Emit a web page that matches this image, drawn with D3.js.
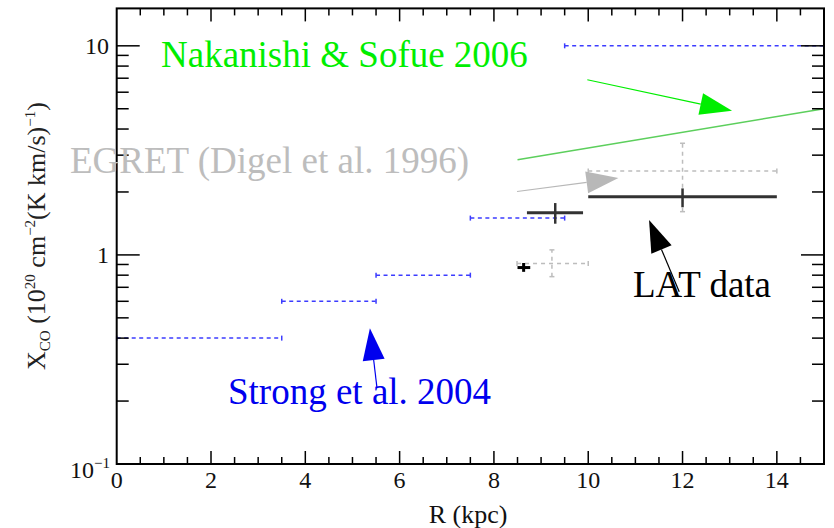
<!DOCTYPE html>
<html>
<head>
<meta charset="utf-8">
<script src="https://cdn.jsdelivr.net/npm/d3@7"></script>
<style>
  body { margin: 0; background: #fff; }
  svg { display: block; }
  svg text { font-family: "Liberation Serif", "Times New Roman", serif; }
</style>
</head>
<body>
<svg width="834" height="528"></svg>
<script>
(function() {
	"use strict"

	// Strong et al. 2004 radial bins (kpc) and X_CO values
	var strongLo = [0, 3.5, 5.5, 7.5, 9.5],
		strongHi = [3.5, 5.5, 7.5, 9.5, 15],
		strongVal = [0.4, 0.6, 0.8, 1.5, 10];

	// EGRET (Digel et al. 1996) points with errors
	var egretR = [9.23, 12], egretRlo = [8.49, 10], egretRhi = [10.0, 14],
		egretX = [0.91, 2.52], egretXlo = [0.787, 1.61], egretXhi = [1.057, 3.42];

	// LAT data points with errors
	var latR = [8.63, 9.3, 12], latRlo = [8.5, 8.7, 10], latRhi = [8.77, 9.89, 14],
		latX = [0.87, 1.59, 1.9], latXlo = [0.83, 1.41, 1.69], latXhi = [0.915, 1.77, 2.08];

	// Nakanishi & Sofue 2006 curve
	var nsR = [8.5, 15], nsX = [2.85, 5.0];

	var xTicks = [0, 2, 4, 6, 8, 10, 12, 14];

	var svg = d3.select("svg"),
		left = 116.7, right = 824, top = 8.4, bottom = 464,
		x = d3.scaleLinear().domain([0, 15]).range([left, right]),
		y = d3.scaleLog().domain([0.1, 15.1]).range([bottom, top]);

	// Strong et al. dashed bins
	var strong = svg.append("g").attr("stroke", "#3c3cff").attr("stroke-width", 1.5).attr("fill", "none");
	strongVal.forEach(function(v, i) {
		strong.append("line")
			.attr("x1", x(strongLo[i])).attr("x2", x(strongHi[i]))
			.attr("y1", y(v)).attr("y2", y(v))
			.attr("stroke-dasharray", "4,3.5");
		[strongLo[i], strongHi[i]].forEach(function(r) {
			strong.append("line")
				.attr("x1", x(r)).attr("x2", x(r))
				.attr("y1", y(v) - 2.5).attr("y2", y(v) + 2.5);
		});
	});

	// EGRET gray dashed crosses
	var egret = svg.append("g").attr("stroke", "#bdbdbd").attr("stroke-width", 1.5).attr("fill", "none");
	egretX.forEach(function(v, i) {
		egret.append("line")
			.attr("x1", x(egretRlo[i])).attr("x2", x(egretRhi[i]))
			.attr("y1", y(v)).attr("y2", y(v))
			.attr("stroke-dasharray", "4,4");
		egret.append("line")
			.attr("x1", x(egretR[i])).attr("x2", x(egretR[i]))
			.attr("y1", y(egretXlo[i])).attr("y2", y(egretXhi[i]))
			.attr("stroke-dasharray", "4,4");
		[egretRlo[i], egretRhi[i]].forEach(function(r) {
			egret.append("line").attr("x1", x(r)).attr("x2", x(r))
				.attr("y1", y(v) - 2.5).attr("y2", y(v) + 2.5);
		});
		[egretXlo[i], egretXhi[i]].forEach(function(e) {
			egret.append("line").attr("y1", y(e)).attr("y2", y(e))
				.attr("x1", x(egretR[i]) - 2.5).attr("x2", x(egretR[i]) + 2.5);
		});
	});

	// Nakanishi & Sofue line
	svg.append("path")
		.datum(nsR.map(function(r, i) { return [r, nsX[i]]; }))
		.attr("fill", "none")
		.attr("stroke", "#5ccf5c")
		.attr("stroke-width", 1.5)
		.attr("d", d3.line().x(function(d) { return x(d[0]); }).y(function(d) { return y(d[1]); }));

	// LAT crosses
	var lat = svg.append("g").attr("stroke", "#333").attr("stroke-width", 3);
	latX.forEach(function(v, i) {
		lat.append("line")
			.attr("x1", x(latRlo[i])).attr("x2", x(latRhi[i]))
			.attr("y1", y(v)).attr("y2", y(v))
			.attr("stroke", i === 0 ? "#000" : null);
		lat.append("line")
			.attr("x1", x(latR[i])).attr("x2", x(latR[i]))
			.attr("y1", y(latXlo[i])).attr("y2", y(latXhi[i]))
			.attr("stroke", i === 0 ? "#000" : null)
			.attr("stroke-width", i === 0 ? 3 : 2.5);
	});

	// frame and ticks
	svg.append("rect")
		.attr("x", left).attr("y", top)
		.attr("width", right - left).attr("height", bottom - top)
		.attr("fill", "none").attr("stroke", "#000").attr("stroke-width", 2);

	var ticks = svg.append("g").attr("stroke", "#000").attr("stroke-width", 1.5);
	d3.range(0.5, 15, 0.5).forEach(function(r) {
		var len = (r % 2 === 0) ? 13 : 7;
		ticks.append("line").attr("x1", x(r)).attr("x2", x(r)).attr("y1", bottom).attr("y2", bottom - len);
		ticks.append("line").attr("x1", x(r)).attr("x2", x(r)).attr("y1", top).attr("y2", top + len);
	});
	var yMinor = [];
	[0.1, 1].forEach(function(dec) {
		d3.range(2, 10).forEach(function(m) { yMinor.push(dec * m); });
	});
	yMinor.forEach(function(v) {
		ticks.append("line").attr("x1", left).attr("x2", left + 12).attr("y1", y(v)).attr("y2", y(v));
		ticks.append("line").attr("x1", right).attr("x2", right - 12).attr("y1", y(v)).attr("y2", y(v));
	});
	[1, 10].forEach(function(v) {
		ticks.append("line").attr("x1", left).attr("x2", left + 23).attr("y1", y(v)).attr("y2", y(v));
		ticks.append("line").attr("x1", right).attr("x2", right - 23).attr("y1", y(v)).attr("y2", y(v));
	});

	// x tick labels
	svg.append("g").selectAll("text")
		.data(xTicks)
		.enter()
		.append("text")
			.attr("x", function(d) { return x(d); })
			.attr("y", bottom + 24)
			.attr("text-anchor", "middle")
			.attr("fill", "#111")
			.style("font-size", "24px")
			.text(function(d) { return d; });

	// y tick labels
	[[10, "10"], [1, "1"]].forEach(function(t) {
		svg.append("text")
			.attr("x", 109).attr("y", y(t[0]) + 8)
			.attr("text-anchor", "end")
			.attr("fill", "#111")
			.style("font-size", "24px")
			.text(t[1]);
	});
	var tm = svg.append("text").attr("x", 70).attr("y", 478).attr("fill", "#111").style("font-size", "24px");
	tm.append("tspan").text("10");
	tm.append("tspan").attr("dy", -10).style("font-size", "15px").text("\u22121");

	// axis titles
	svg.append("text")
		.attr("x", x(7.45)).attr("y", 523)
		.attr("text-anchor", "middle")
		.attr("fill", "#111")
		.style("font-size", "26px")
		.text("R (kpc)");

	var yl = svg.append("text")
		.attr("transform", "translate(45,236) rotate(-90)")
		.attr("text-anchor", "middle")
		.style("font-size", "26px")
		.attr("fill", "#222");
	yl.append("tspan").text("X");
	yl.append("tspan").attr("dy", 5).style("font-size", "15px").text("CO");
	yl.append("tspan").attr("dy", -5).text(" (10");
	yl.append("tspan").attr("dy", -10).style("font-size", "15px").text("20");
	yl.append("tspan").attr("dy", 10).text(" cm");
	yl.append("tspan").attr("dy", -10).style("font-size", "15px").text("\u22122");
	yl.append("tspan").attr("dy", 10).text("(K km/s)");
	yl.append("tspan").attr("dy", -10).style("font-size", "15px").text("\u22121");
	yl.append("tspan").attr("dy", 10).text(")");

	// annotations: arrows given in data coordinates
	var arrowFrom = [[9.98, 6.88], [8.49, 2.01], [11.93, 0.667], [5.52, 0.231]],
		arrowTo = [[13.05, 4.89], [10.64, 2.33], [11.29, 1.47], [5.37, 0.446]],
		arrowColor = ["#00ee00", "#b8b8b8", "#000", "#0000ee"];

	arrowFrom.forEach(function(f, i) {
		var x1 = x(f[0]), y1 = y(f[1]), x2 = x(arrowTo[i][0]), y2 = y(arrowTo[i][1]),
			a = Math.atan2(y2 - y1, x2 - x1), hl = 32, hw = 11,
			bx = x2 - hl * Math.cos(a), by = y2 - hl * Math.sin(a);
		svg.append("line")
			.attr("x1", x1).attr("y1", y1).attr("x2", bx).attr("y2", by)
			.attr("stroke", arrowColor[i]).attr("stroke-width", 1.2);
		svg.append("path")
			.attr("d", "M" + x2 + "," + y2 +
				"L" + (bx - hw * Math.sin(a)) + "," + (by + hw * Math.cos(a)) +
				"L" + (bx + hw * Math.sin(a)) + "," + (by - hw * Math.cos(a)) + "Z")
			.attr("fill", arrowColor[i]);
	});

	var labelText = ["Nakanishi & Sofue 2006", "EGRET (Digel et al. 1996)", "LAT data", "Strong et al. 2004"],
		labelPos = [[161, 67], [70, 172.7], [633, 296.7], [228, 404]],
		labelColor = ["#00ee00", "#bdbdbd", "#000", "#0000ee"];
	labelText.forEach(function(t, i) {
		svg.append("text")
			.attr("x", labelPos[i][0]).attr("y", labelPos[i][1])
			.style("font-size", "37px")
			.attr("fill", labelColor[i])
			.text(t);
	});
})();
</script>
</body>
</html>
